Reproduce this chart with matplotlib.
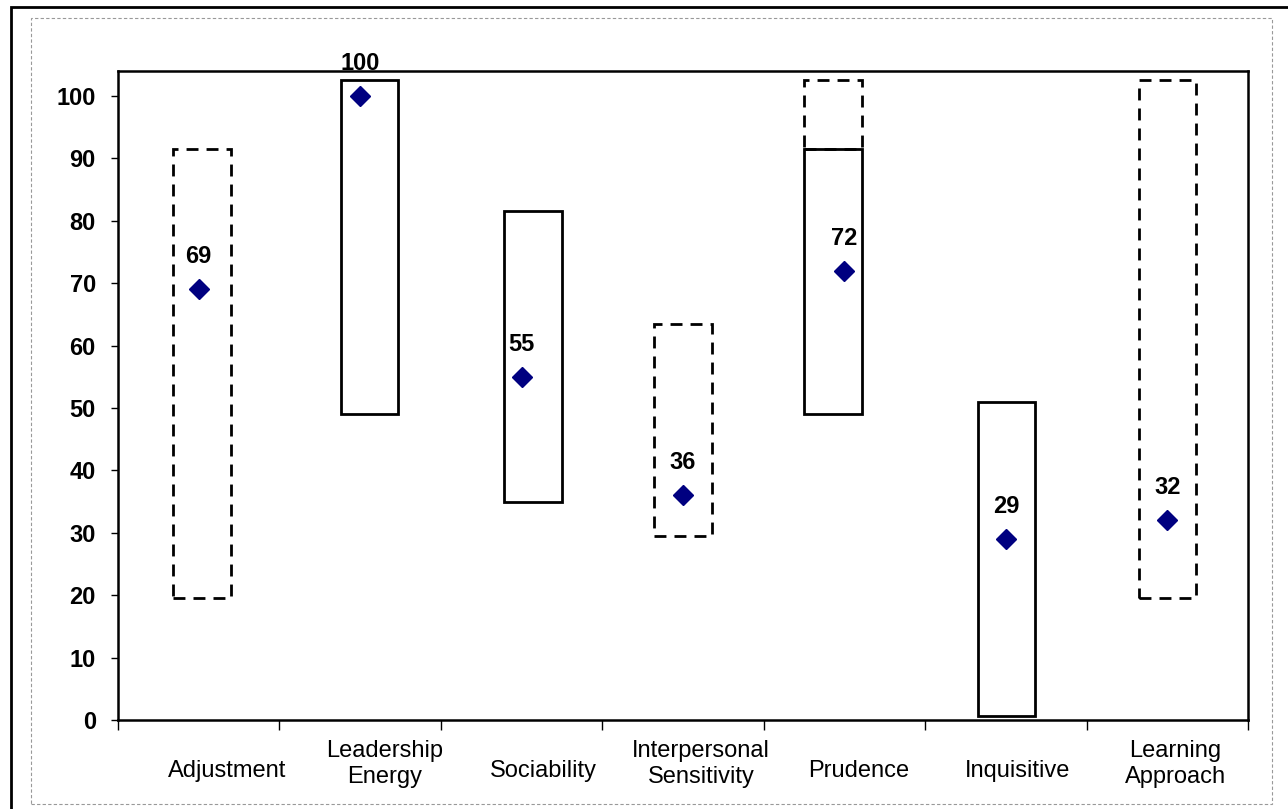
import matplotlib.pyplot as plt
from matplotlib.patches import Rectangle
from matplotlib.transforms import blended_transform_factory

plt.rcParams['font.family'] = ['Liberation Sans', 'DejaVu Sans']

categories = ['Adjustment', 'Leadership\nEnergy', 'Sociability', 'Interpersonal\nSensitivity',
              'Prudence', 'Inquisitive', 'Learning\nApproach']
scores = [69, 100, 55, 36, 72, 29, 32]
# solid box range (None = no solid box)
solid_low = [None, 49, 35, None, 49, 0.7, None]
solid_high = [None, 102.5, 81.5, None, 91.5, 51, None]
# dashed box range
dashed_low = [19.5, None, None, 29.5, 91.5, None, 19.5]
dashed_high = [91.5, None, None, 63.5, 102.5, None, 102.5]
# boxes are hand-placed shapes in the original, slightly off-centre
box_shift = [0.02, 0.06, 0.07, 0.0, -0.07, 0.005, 0.0]

fig = plt.figure(figsize=(12.88, 8.09), dpi=100)
ax = fig.add_axes([118 / 1288, 89 / 809, 1130 / 1288, 649 / 809])

# outer frames
fig.add_artist(Rectangle((11 / 1288, -0.05), 1.2, 1 - 7 / 809 + 0.05, transform=fig.transFigure,
                         fill=False, edgecolor='black', linewidth=2))
fig.add_artist(Rectangle((31 / 1288, 5 / 809), 1241 / 1288, 786 / 809, transform=fig.transFigure,
                         fill=False, edgecolor='#999999', linewidth=0.8, linestyle=(0, (3, 2))))

w = 0.355
for i in range(len(categories)):
    cx = i + box_shift[i]
    if dashed_low[i] is not None:
        ax.add_patch(Rectangle((cx - w / 2, dashed_low[i]), w, dashed_high[i] - dashed_low[i],
                               fill=False, edgecolor='black', linewidth=2, linestyle=(0, (4.3, 2.9))))
    if solid_low[i] is not None:
        ax.add_patch(Rectangle((cx - w / 2, solid_low[i]), w, solid_high[i] - solid_low[i],
                               fill=False, edgecolor='black', linewidth=2))

x = list(range(len(categories)))
ax.plot(x, scores, linestyle='none', marker='D', markersize=10, color='#000080', zorder=5)
for i, v in enumerate(scores):
    ax.annotate(str(v), (i, v), xytext=(0, 23.5), textcoords='offset points',
                ha='center', va='center', fontsize=17, fontweight='bold')

ax.set_xlim(-0.5, 6.5)
ax.set_ylim(0, 104)
ax.set_yticks(range(0, 101, 10))
for lab in ax.get_yticklabels():
    lab.set_fontweight('bold')
ax.tick_params(axis='y', length=5, width=1, pad=11, labelsize=17, direction='out')

ax.set_xticks([i - 0.5 for i in range(len(categories) + 1)])
ax.set_xticklabels([])
ax.tick_params(axis='x', which='major', length=7, width=1, direction='out')

# category labels sit on their own, slightly narrower grid (as in the original)
trans = blended_transform_factory(ax.transData, ax.transAxes)
for i, name in enumerate(categories):
    ty = -0.068 if '\n' in name else -0.0786
    ax.text(0.175 + 0.979 * i, ty, name, transform=trans, ha='center', va='center',
            fontsize=17, clip_on=False)

for s in ax.spines.values():
    s.set_linewidth(1.8)

fig.savefig('out.png', dpi=100)
